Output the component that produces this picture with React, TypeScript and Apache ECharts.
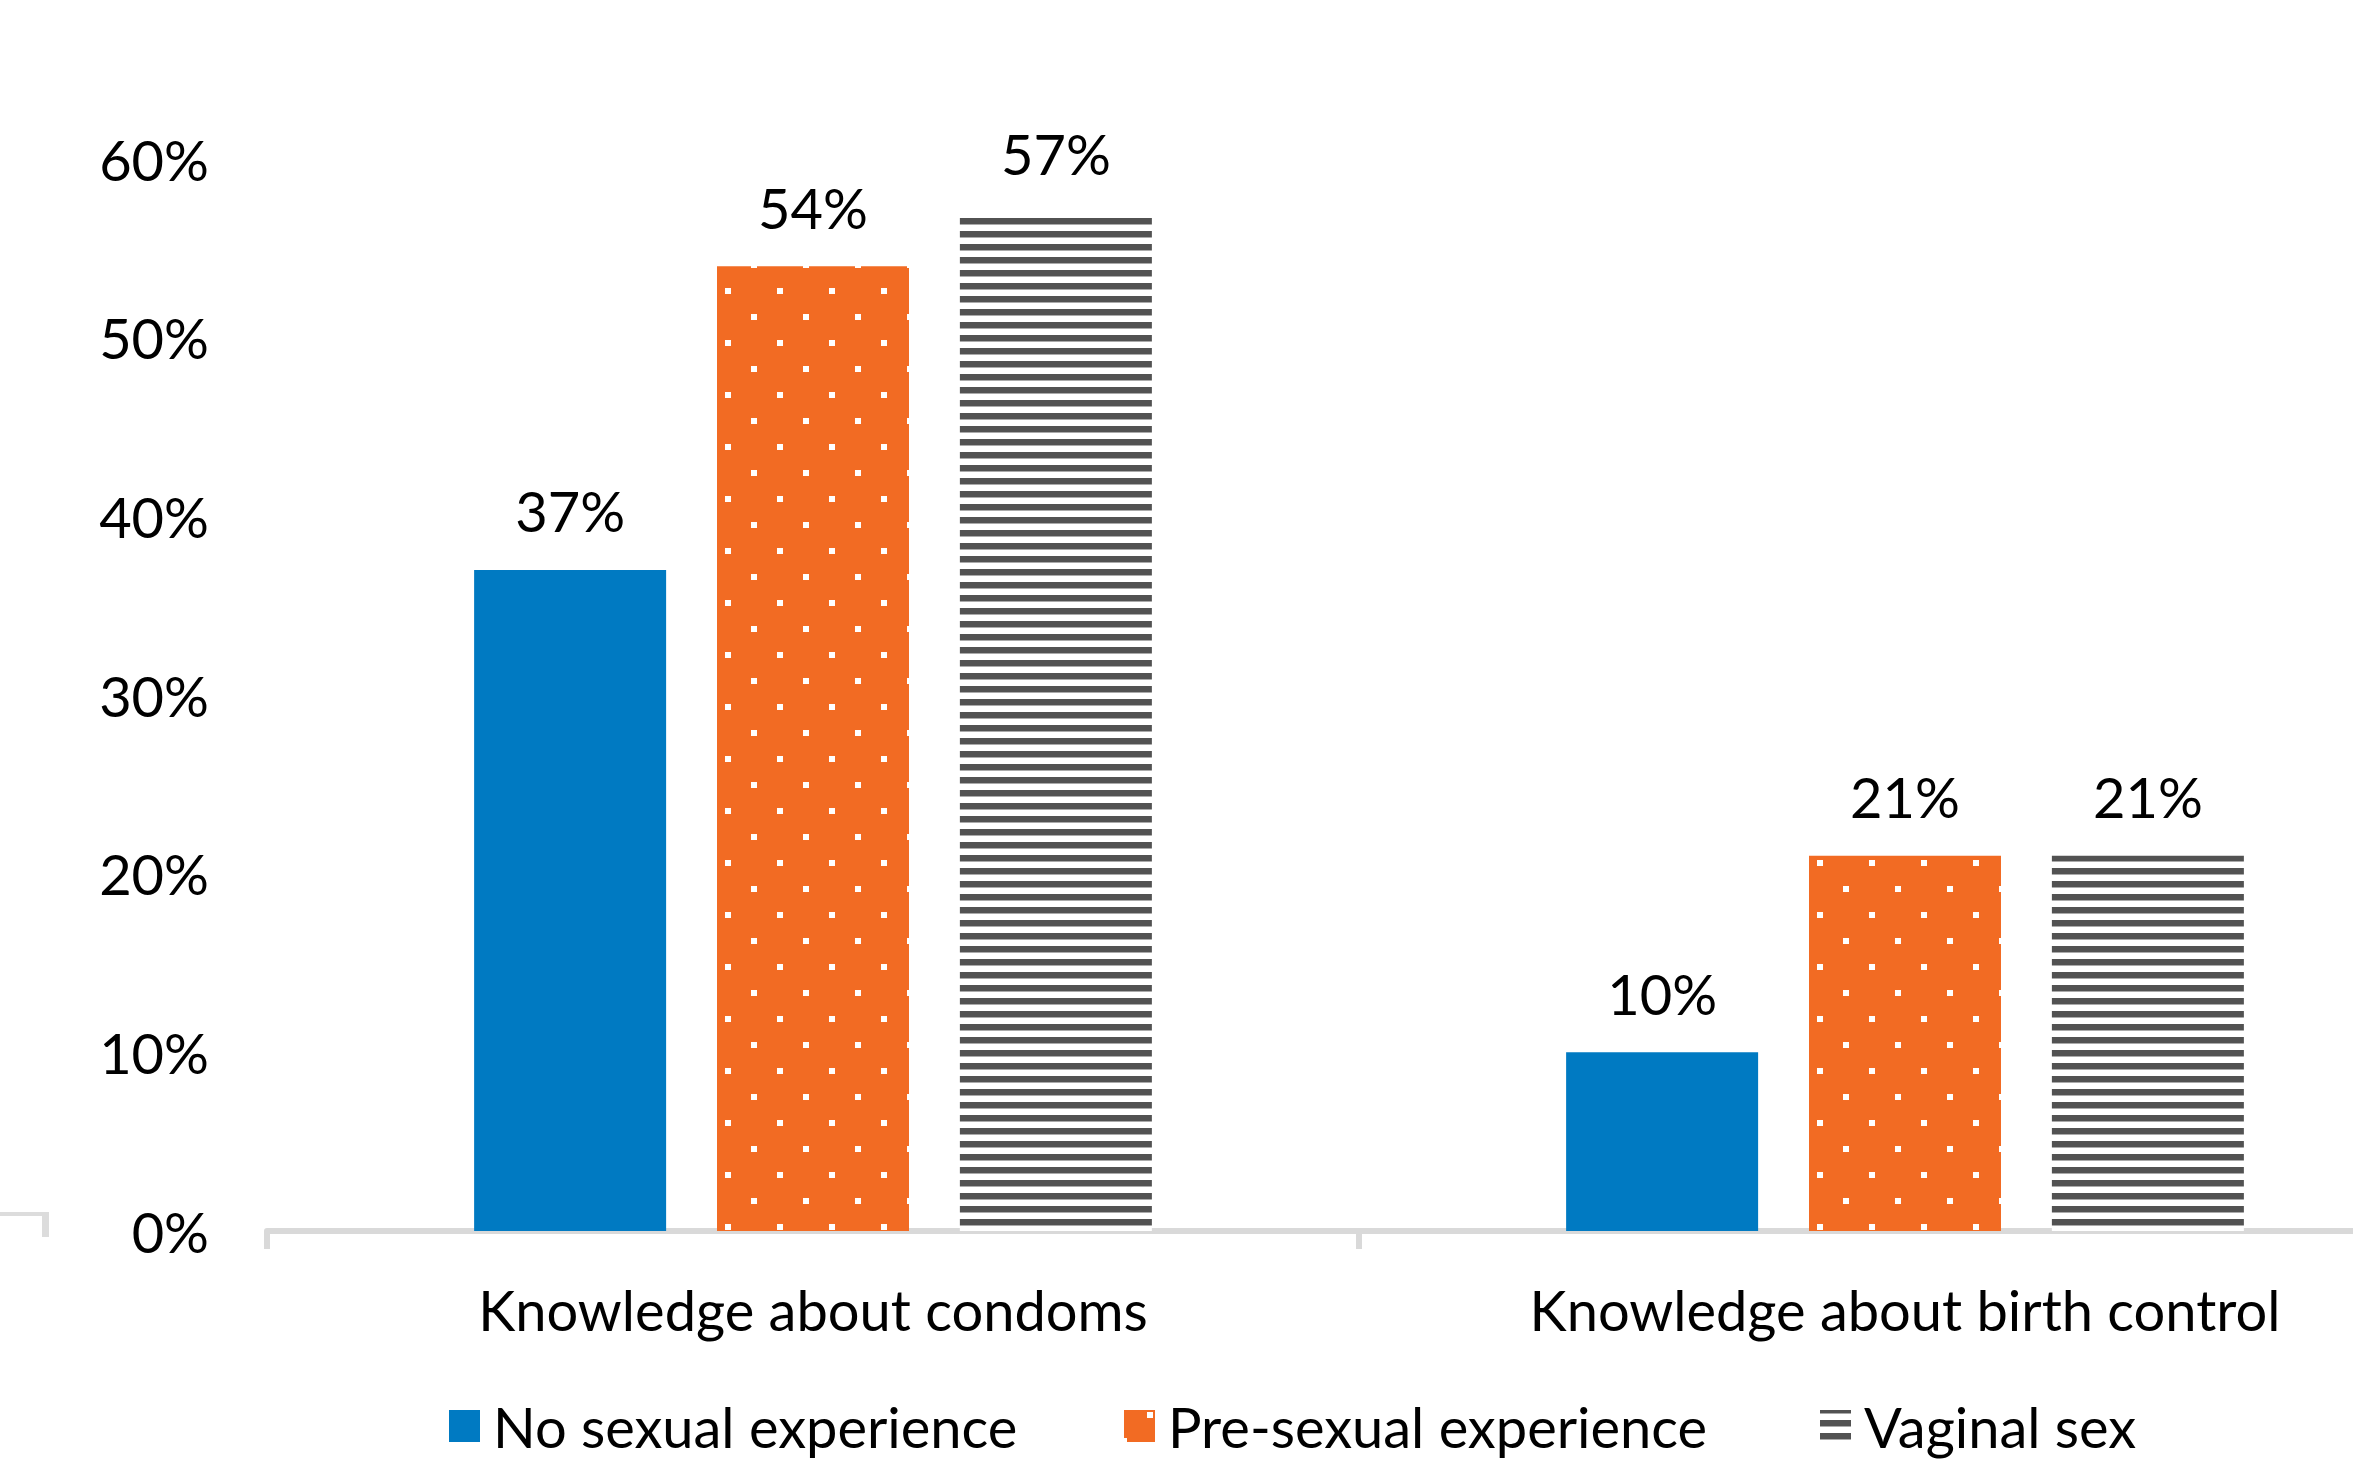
import React, { useEffect, useRef } from "react";
import * as echarts from "echarts";

const categories = ["Knowledge about condoms", "Knowledge about birth control"];
const seriesNames = ["No sexual experience", "Pre-sexual experience", "Vaginal sex"];
const noExperience = [37, 10];
const preSexual = [54, 21];
const vaginalSex = [57, 21];
const yTicks = [0, 10, 20, 30, 40, 50, 60];
const legendLefts = [449, 1124, 1820];

const FONT = "Lato, 'Open Sans', sans-serif";
const FS = 56;

function makeDots(): HTMLCanvasElement {
  const c = document.createElement("canvas");
  c.width = 52;
  c.height = 52;
  const ctx = c.getContext("2d")!;
  ctx.fillStyle = "#f26b23";
  ctx.fillRect(0, 0, 52, 52);
  ctx.fillStyle = "#ffffff";
  const dots = [
    [49, 28],
    [23, 2],
  ];
  for (const [x, y] of dots) {
    for (const dx of [0, -52]) {
      for (const dy of [0, -52]) {
        ctx.fillRect(x + dx, y + dy, 6, 6);
      }
    }
  }
  return c;
}

function makeStripes(): HTMLCanvasElement {
  const c = document.createElement("canvas");
  c.width = 13;
  c.height = 13;
  const ctx = c.getContext("2d")!;
  ctx.fillStyle = "#ffffff";
  ctx.fillRect(0, 0, 13, 13);
  ctx.fillStyle = "#525252";
  for (const r of [10, 11, 12, 0, 1, 2]) ctx.fillRect(0, r, 13, 1);
  ctx.fillStyle = "#aaaaaa";
  ctx.fillRect(0, 3, 13, 1);
  return c;
}

export default function App() {
  const ref = useRef<HTMLDivElement>(null);
  useEffect(() => {
    if (!ref.current) return;
    const chart = echarts.init(ref.current, undefined, { renderer: "svg" });
    const dots = makeDots();
    const stripes = makeStripes();
    const dotPattern: any = { image: dots, repeat: "repeat", imageWidth: 52, imageHeight: 52 };
    const stripePattern: any = { image: stripes, repeat: "repeat", imageWidth: 13, imageHeight: 13 };
    const label = {
      show: true,
      position: "top",
      distance: 31,
      formatter: "{c}%",
      fontFamily: FONT,
      fontSize: FS,
      color: "#000",
    };
    const option: any = {
      animation: false,
      backgroundColor: "#ffffff",
      grid: {
        left: 267,
        width: 2184,
        top: 159,
        height: 1072,
        containLabel: false,
        outerBoundsMode: "none",
      },
      legend: seriesNames.map((name, i) => ({
        left: legendLefts[i],
        top: 1398,
        padding: 0,
        icon: "rect",
        itemWidth: 31,
        itemHeight: 32,
        data: [name],
        textStyle: { fontFamily: FONT, fontSize: FS, color: "#000", padding: [0, 0, 0, 8] },
      })),
      xAxis: {
        type: "category",
        data: categories,
        axisLine: { show: true, lineStyle: { color: "#d9d9d9", width: 6 } },
        axisTick: { show: true, length: 18, lineStyle: { color: "#d9d9d9", width: 6 } },
        axisLabel: { fontFamily: FONT, fontSize: FS, color: "#000", margin: 50 },
        splitLine: { show: false },
      },
      yAxis: {
        type: "value",
        min: 0,
        max: 60,
        interval: 10,
        axisLine: { show: false },
        axisTick: { show: false },
        splitLine: { show: false },
        axisLabel: {
          fontFamily: FONT,
          fontSize: FS,
          color: "#000",
          margin: 58,
          formatter: (v: number) => (yTicks.includes(v) ? v + "%" : ""),
        },
      },
      graphic: [
        { type: "rect", shape: { x: 0, y: 1212, width: 49, height: 4 }, style: { fill: "#dcdcdc" } },
        { type: "rect", shape: { x: 42, y: 1212, width: 7, height: 25 }, style: { fill: "#dcdcdc" } },
      ],
      series: [
        {
          name: seriesNames[0],
          type: "bar",
          data: noExperience,
          barWidth: 192,
          barGap: "26.5%",
          itemStyle: { color: "#007ac2" },
          label,
        },
        {
          name: seriesNames[1],
          type: "bar",
          data: preSexual,
          barWidth: 192,
          barGap: "26.5%",
          itemStyle: { color: dotPattern },
          label,
        },
        {
          name: seriesNames[2],
          type: "bar",
          data: vaginalSex,
          barWidth: 192,
          barGap: "26.5%",
          itemStyle: { color: stripePattern },
          label,
        },
      ],
    };
    chart.setOption(option);
    return () => chart.dispose();
  }, []);
  return (
    <div
      ref={ref}
      style={{ position: "fixed", left: 0, top: 0, width: 2353, height: 1460, background: "#fff" }}
    />
  );
}
